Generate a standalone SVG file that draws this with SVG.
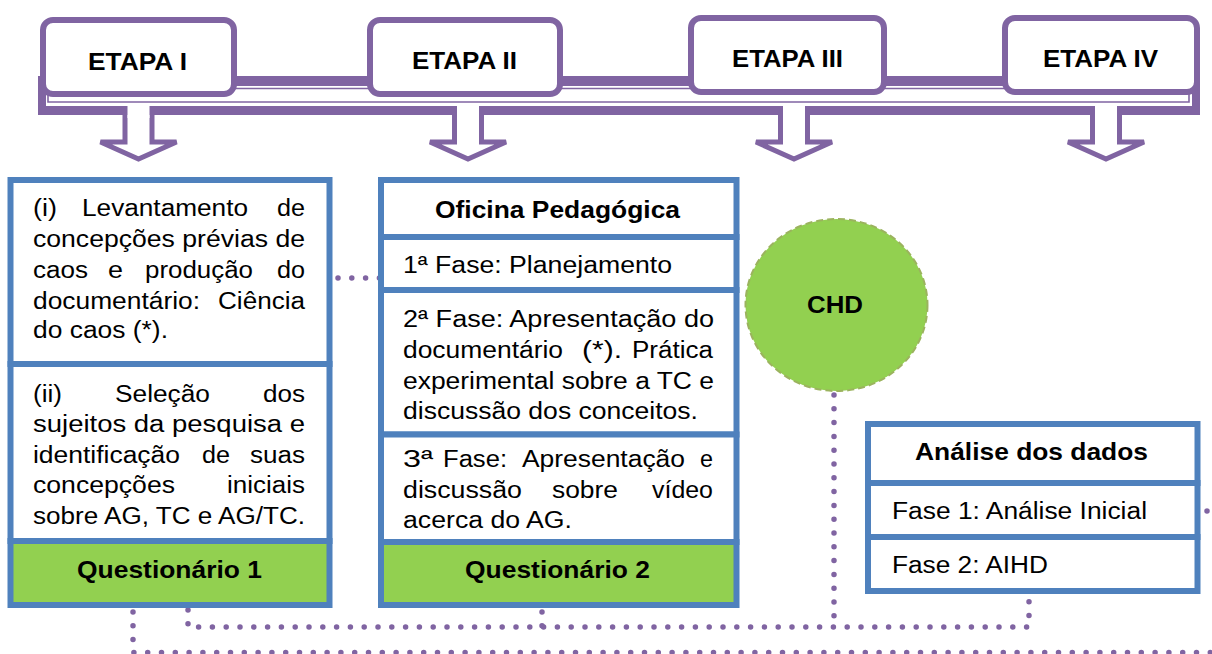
<svg xmlns="http://www.w3.org/2000/svg" width="1212" height="654" viewBox="0 0 1212 654">
<style>
.t{font-family:"Liberation Sans",Arial,sans-serif;font-size:23.5px;fill:#000}
.b{font-family:"Liberation Sans",Arial,sans-serif;font-size:24px;font-weight:bold;fill:#000}
.e{font-family:"Liberation Sans",Arial,sans-serif;font-size:23px;font-weight:bold;fill:#000}
.pur{fill:#8064A2}
.etapa{fill:#fff;stroke:#8064A2;stroke-width:6}
.arrow{fill:#fff;stroke:#8064A2;stroke-width:5;stroke-linejoin:miter}
.box{fill:#fff;stroke:#4F81BD;stroke-width:6}
.gbox{fill:#92D050;stroke:#4F81BD;stroke-width:6}
.dot{fill:none;stroke:#8064A2;stroke-width:5.5;stroke-linecap:round;stroke-dasharray:0 13.8}
</style>

<g id="connectors">
  <path class="dot" d="M338 278 H380"/>
  <path class="dot" d="M188 610 V627 H1029 V600"/>
  <path class="dot" d="M542 612 V627"/>
  <path class="dot" d="M834 395 V627"/>
  <path class="dot" d="M133 612 V652.5 H1222"/>
  <path class="dot" d="M1207 511 H1222"/>
</g>

<g id="timeline">
  <g id="arrows">
    <polygon class="arrow" points="125,110 125,142 100.5,142 138.5,159 176.5,142 152,142 152,110"/>
    <polygon class="arrow" points="454.5,110 454.5,142 430,142 468,159 506,142 481.5,142 481.5,110"/>
    <polygon class="arrow" points="780.5,110 780.5,142 756,142 794,159 832,142 807.5,142 807.5,110"/>
    <polygon class="arrow" points="1092.5,110 1092.5,142 1068,142 1106,159 1144,142 1119.5,142 1119.5,110"/>
  </g>
  <rect class="pur" x="38" y="76" width="1162" height="10"/>
  <rect class="pur" x="38" y="106" width="1162" height="9"/>
  <rect class="pur" x="38" y="76" width="8" height="39"/>
  <rect class="pur" x="1192" y="76" width="8" height="39"/>
  <path d="M48 88.5 V102 H1189 V88.5 M48 88.5 H1189" fill="none" stroke="#8064A2" stroke-width="1.6"/>
  <rect x="127.5" y="104" width="22" height="14" fill="#fff"/>
  <rect x="457" y="104" width="22" height="14" fill="#fff"/>
  <rect x="783" y="104" width="22" height="14" fill="#fff"/>
  <rect x="1095" y="104" width="22" height="14" fill="#fff"/>
</g>

<g id="etapa1">
  <rect class="etapa" x="43" y="20" width="191" height="74" rx="10"/>
  <text class="e" x="88" y="69.5" textLength="99" lengthAdjust="spacingAndGlyphs">ETAPA I</text>
</g>
<g id="etapa2">
  <rect class="etapa" x="370" y="20" width="190" height="74" rx="10"/>
  <text class="e" x="412" y="68.5" textLength="105" lengthAdjust="spacingAndGlyphs">ETAPA II</text>
</g>
<g id="etapa3">
  <rect class="etapa" x="691" y="18" width="193" height="74" rx="10"/>
  <text class="e" x="732" y="66.5" textLength="111" lengthAdjust="spacingAndGlyphs">ETAPA III</text>
</g>
<g id="etapa4">
  <rect class="etapa" x="1005" y="18" width="192" height="74" rx="10"/>
  <text class="e" x="1043" y="66.5" textLength="115" lengthAdjust="spacingAndGlyphs">ETAPA IV</text>
</g>

<g id="etapa1-content">
  <rect class="box" x="10.5" y="180" width="319" height="184"/>
  <text class="t" x="33" y="216" textLength="24" lengthAdjust="spacingAndGlyphs">(i)</text>
  <text class="t" x="82" y="216" textLength="166" lengthAdjust="spacingAndGlyphs">Levantamento</text>
  <text class="t" x="277" y="216" textLength="28" lengthAdjust="spacingAndGlyphs">de</text>
  <text class="t" x="33" y="247" textLength="272" lengthAdjust="spacingAndGlyphs">concepções prévias de</text>
  <text class="t" x="33" y="278" textLength="55" lengthAdjust="spacingAndGlyphs">caos</text>
  <text class="t" x="108" y="278" textLength="15" lengthAdjust="spacingAndGlyphs">e</text>
  <text class="t" x="145" y="278" textLength="108" lengthAdjust="spacingAndGlyphs">produção</text>
  <text class="t" x="277" y="278" textLength="28" lengthAdjust="spacingAndGlyphs">do</text>
  <text class="t" x="33" y="308.5" textLength="167" lengthAdjust="spacingAndGlyphs">documentário:</text>
  <text class="t" x="218" y="308.5" textLength="87" lengthAdjust="spacingAndGlyphs">Ciência</text>
  <text class="t" x="33" y="338" textLength="135" lengthAdjust="spacingAndGlyphs">do caos (*).</text>

  <rect class="box" x="10.5" y="364" width="319" height="177"/>
  <text class="t" x="33" y="401.5" textLength="29" lengthAdjust="spacingAndGlyphs">(ii)</text>
  <text class="t" x="115" y="401.5" textLength="95" lengthAdjust="spacingAndGlyphs">Seleção</text>
  <text class="t" x="263" y="401.5" textLength="42" lengthAdjust="spacingAndGlyphs">dos</text>
  <text class="t" x="33" y="432" textLength="272" lengthAdjust="spacingAndGlyphs">sujeitos da pesquisa e</text>
  <text class="t" x="33" y="462.5" textLength="147" lengthAdjust="spacingAndGlyphs">identificação</text>
  <text class="t" x="202" y="462.5" textLength="28" lengthAdjust="spacingAndGlyphs">de</text>
  <text class="t" x="250" y="462.5" textLength="55" lengthAdjust="spacingAndGlyphs">suas</text>
  <text class="t" x="33" y="493" textLength="142" lengthAdjust="spacingAndGlyphs">concepções</text>
  <text class="t" x="227" y="493" textLength="78" lengthAdjust="spacingAndGlyphs">iniciais</text>
  <text class="t" x="33" y="523.5" textLength="272" lengthAdjust="spacingAndGlyphs">sobre AG, TC e AG/TC.</text>

  <rect class="gbox" x="10.5" y="541" width="319" height="64"/>
  <text class="b" x="77" y="578" textLength="185" lengthAdjust="spacingAndGlyphs">Questionário 1</text>
</g>

<g id="etapa2-content">
  <rect class="box" x="381" y="180" width="355.5" height="57"/>
  <text class="b" x="435" y="218" textLength="245" lengthAdjust="spacingAndGlyphs">Oficina Pedagógica</text>
  <rect class="box" x="381" y="237" width="355.5" height="53"/>
  <text class="t" x="403" y="273" textLength="269" lengthAdjust="spacingAndGlyphs">1ª Fase: Planejamento</text>
  <rect class="box" x="381" y="290" width="355.5" height="144.5"/>
  <text class="t" x="403" y="327" textLength="311" lengthAdjust="spacingAndGlyphs">2ª Fase: Apresentação do</text>
  <text class="t" x="403" y="358" textLength="160" lengthAdjust="spacingAndGlyphs">documentário</text>
  <text class="t" x="582" y="358" textLength="40" lengthAdjust="spacingAndGlyphs">(*).</text>
  <text class="t" x="632" y="358" textLength="81" lengthAdjust="spacingAndGlyphs">Prática</text>
  <text class="t" x="403" y="388.5" textLength="311" lengthAdjust="spacingAndGlyphs">experimental sobre a TC e</text>
  <text class="t" x="403" y="419" textLength="295" lengthAdjust="spacingAndGlyphs">discussão dos conceitos.</text>
  <rect class="box" x="381" y="434.5" width="355.5" height="107.5"/>
  <text class="t" x="403" y="467" textLength="30" lengthAdjust="spacingAndGlyphs">3ª</text>
  <text class="t" x="443" y="467" textLength="64" lengthAdjust="spacingAndGlyphs">Fase:</text>
  <text class="t" x="522" y="467" textLength="163" lengthAdjust="spacingAndGlyphs">Apresentação</text>
  <text class="t" x="700" y="467" textLength="13" lengthAdjust="spacingAndGlyphs">e</text>
  <text class="t" x="403" y="498" textLength="119" lengthAdjust="spacingAndGlyphs">discussão</text>
  <text class="t" x="552" y="498" textLength="66" lengthAdjust="spacingAndGlyphs">sobre</text>
  <text class="t" x="652" y="498" textLength="61" lengthAdjust="spacingAndGlyphs">vídeo</text>
  <text class="t" x="403" y="528" textLength="169" lengthAdjust="spacingAndGlyphs">acerca do AG.</text>
  <rect class="gbox" x="381" y="542" width="355.5" height="63"/>
  <text class="b" x="465" y="578" textLength="185" lengthAdjust="spacingAndGlyphs">Questionário 2</text>
</g>

<g id="chd">
  <ellipse cx="836.5" cy="305" rx="91" ry="86" fill="#92D050" stroke="#9BB35E" stroke-width="2" stroke-dasharray="7 4"/>
  <text class="b" x="807" y="313" textLength="56" lengthAdjust="spacingAndGlyphs">CHD</text>
</g>

<g id="analise">
  <rect class="box" x="868" y="424" width="329.5" height="59"/>
  <text class="b" x="915" y="460" textLength="233" lengthAdjust="spacingAndGlyphs">Análise dos dados</text>
  <rect class="box" x="868" y="483" width="329.5" height="54"/>
  <text class="t" x="892" y="519" textLength="255" lengthAdjust="spacingAndGlyphs">Fase 1: Análise Inicial</text>
  <rect class="box" x="868" y="537" width="329.5" height="54"/>
  <text class="t" x="892" y="573" textLength="156" lengthAdjust="spacingAndGlyphs">Fase 2: AIHD</text>
</g>
</svg>
